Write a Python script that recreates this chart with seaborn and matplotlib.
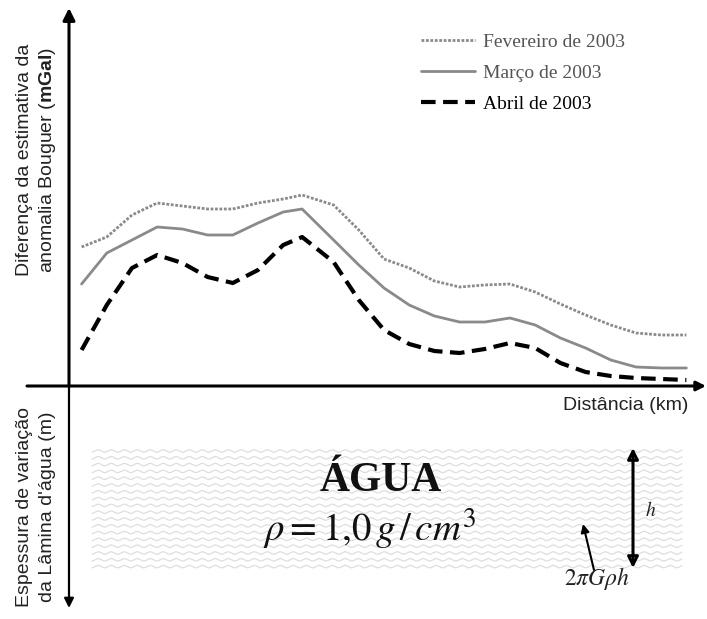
import numpy as np
import pandas as pd
import matplotlib
matplotlib.use("Agg")
import matplotlib.pyplot as plt
import seaborn as sns

# ---- data (schematic values) ----
distancia = [2, 6, 10, 14, 18, 22, 26, 30, 34, 37, 42, 46, 50, 54, 58, 62, 66, 70, 74, 78, 82, 86, 90, 94, 98]
fevereiro = [1.39, 1.49, 1.71, 1.83, 1.80, 1.77, 1.77, 1.83, 1.87, 1.91, 1.81, 1.56, 1.27, 1.18, 1.05, 0.99, 1.01, 1.02, 0.94, 0.82, 0.71, 0.61, 0.53, 0.51, 0.51]
marco = [1.02, 1.33, 1.46, 1.59, 1.57, 1.51, 1.51, 1.63, 1.74, 1.77, 1.46, 1.21, 0.98, 0.81, 0.70, 0.64, 0.64, 0.68, 0.61, 0.48, 0.38, 0.26, 0.19, 0.18, 0.18]
abril = [0.36, 0.81, 1.18, 1.31, 1.23, 1.09, 1.03, 1.16, 1.41, 1.49, 1.24, 0.86, 0.56, 0.42, 0.35, 0.33, 0.37, 0.43, 0.38, 0.23, 0.14, 0.10, 0.08, 0.07, 0.06]
series_labels = ["Fevereiro de 2003", "Março de 2003", "Abril de 2003"]

sns.set_theme(style="white")
plt.rcParams["font.family"] = ["Liberation Sans", "DejaVu Sans"]
plt.rcParams["mathtext.fontset"] = "custom"
plt.rcParams["mathtext.rm"] = "Liberation Sans"
plt.rcParams["mathtext.bf"] = "Liberation Sans:bold"

fig = plt.figure(figsize=(7.07, 6.19), dpi=100)
ax = fig.add_axes([0, 0, 1, 1])
sx = 6.3      # px per km
sy = 100.0    # px per unit
ax.set_xlim(-69 / sx, (707 - 69) / sx)
ax.set_ylim(-(619 - 386) / sy, 386 / sy)
ax.axis("off")

# ---- curves ----
sns.lineplot(x=distancia, y=fevereiro, ax=ax, color="#8a8a8a", lw=2.0,
             linestyle=(0, (1.0, 0.6)), label=series_labels[0])
sns.lineplot(x=distancia, y=marco, ax=ax, color="#8a8a8a", lw=2.0,
             linestyle="-", label=series_labels[1])
sns.lineplot(x=distancia, y=abril, ax=ax, color="black", lw=3.0,
             linestyle=(0, (3.5, 1.8)), label=series_labels[2])

leg = ax.legend(loc="upper left", bbox_to_anchor=(403 / 707, 1 - 16 / 619),
                frameon=False, handlelength=2.8, handletextpad=0.4,
                labelspacing=0.68, prop={"family": "Liberation Serif", "size": 14})
for t, c in zip(leg.get_texts(), ["#555555", "#555555", "black"]):
    t.set_color(c)

# ---- axes with arrows ----
ax.annotate("", xy=(0, 378 / sy), xytext=(0, 0), xycoords="data",
            arrowprops=dict(arrowstyle="-|>", lw=2.2, color="black", mutation_scale=18, shrinkA=0, shrinkB=0))
ax.annotate("", xy=(0, -(608 - 386) / sy), xytext=(0, 0.01),
            arrowprops=dict(arrowstyle="-|>", lw=1.6, color="black", mutation_scale=14, shrinkA=0, shrinkB=0))
ax.annotate("", xy=((706 - 69) / sx, 0), xytext=(-(69 - 27) / sx, 0),
            arrowprops=dict(arrowstyle="-|>", lw=2.2, color="black", mutation_scale=14, shrinkA=0, shrinkB=0))

# ---- water band (wavy texture) ----
x0, x1 = (92 - 69) / sx, (682 - 69) / sx
xs = np.linspace(x0, x1, 900)
for k in range(18):
    base = -(451 + k * 6.8 - 386) / sy
    ax.plot(xs, base + 0.012 * np.sin(2 * np.pi * xs * sx / 13.0), color="#dedede", lw=0.9, zorder=1)

# ---- texts ----
ax.text(-(69 - 25) / sx, (386 - 160) / sy, "Diferença da estimativa da",
        rotation=90, ha="center", va="center", fontsize=14, color="#222222")
ax.text(-(69 - 48) / sx, (386 - 160) / sy, r"anomalia Bouguer ($\mathbf{mGal}$)",
        rotation=90, ha="center", va="center", fontsize=14, color="#222222")
ax.text(-(69 - 25) / sx, -(507 - 386) / sy, "Espessura de variação",
        rotation=90, ha="center", va="center", fontsize=14, color="#222222")
ax.text(-(69 - 48) / sx, -(507 - 386) / sy, "da Lâmina d'água (m)",
        rotation=90, ha="center", va="center", fontsize=14, color="#222222")
ax.text((688 - 69) / sx, -(405 - 386) / sy, "Distância (km)",
        ha="right", va="center", fontsize=14, color="#222222")

ax.text((381 - 69) / sx, -(481 - 386) / sy, "ÁGUA", ha="center", va="center",
        fontsize=30, fontweight="bold", family="Liberation Serif", color="#111111")
ax.text((370 - 69) / sx, -(529 - 386) / sy, r"$\rho = 1{,}0\,g\,/\,cm^3$",
        ha="center", va="center", fontsize=28, math_fontfamily="stix", color="#111111")

ax.annotate("", xy=((633 - 69) / sx, -(448 - 386) / sy), xytext=((633 - 69) / sx, -(568 - 386) / sy),
            arrowprops=dict(arrowstyle="<|-|>", lw=2.2, color="black", mutation_scale=16,
                            shrinkA=0, shrinkB=0, fill=False))
ax.text((651 - 69) / sx, -(510 - 386) / sy, r"$h$", ha="center", va="center",
        fontsize=14, math_fontfamily="stix", color="#222222")
ax.annotate("", xy=((583 - 69) / sx, -(524 - 386) / sy), xytext=((594 - 69) / sx, -(570 - 386) / sy),
            arrowprops=dict(arrowstyle="-|>", lw=1.5, color="black", mutation_scale=12, shrinkA=0, shrinkB=0))
ax.text((597 - 69) / sx, -(578 - 386) / sy, r"$2\pi G\rho h$", ha="center", va="center",
        fontsize=17, math_fontfamily="stix", color="#222222")

fig.savefig("out.png", dpi=100)
